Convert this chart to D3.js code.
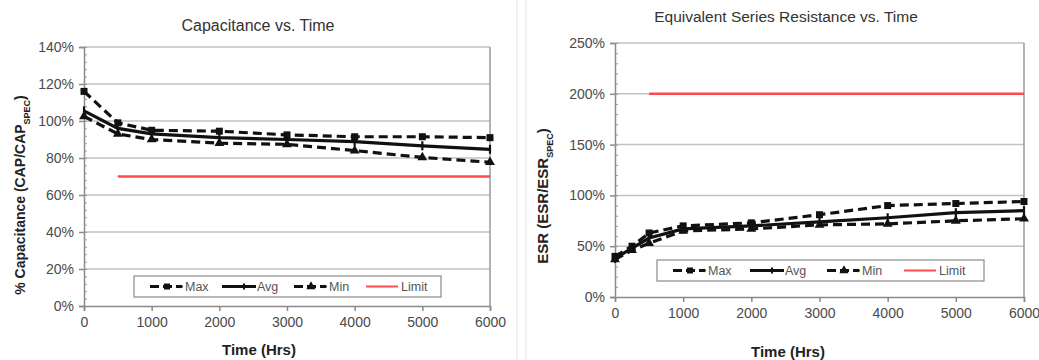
<!DOCTYPE html>
<html>
<head>
<meta charset="utf-8">
<script src="https://cdn.jsdelivr.net/npm/d3@7"></script>
<style>
  body { margin: 0; background: #fff; }
  svg { display: block; font-family: "Liberation Sans", Arial, sans-serif; }
</style>
</head>
<body>
<div id="chart"></div>
<script>
// capacitance chart data
const capTimes = [0, 500, 1000, 2000, 3000, 4000, 5000, 6000];
const capMax = [116, 99, 95, 94.5, 92.5, 91.5, 91.5, 91];
const capAvg = [105.5, 96, 93, 91, 90, 88.8, 86.6, 84.7];
const capMin = [102.5, 93, 90, 88, 87.4, 84, 80.3, 77.7];
const capLimitTimes = [500, 6000];
const capLimit = [70, 70];
const capTicks = [0, 20, 40, 60, 80, 100, 120, 140];

// ESR chart data
const esrTimes = [0, 250, 500, 1000, 2000, 3000, 4000, 5000, 6000];
const esrMax = [40, 50, 63, 70, 73, 81, 90, 92, 94];
const esrAvg = [38, 48, 58, 67, 70, 74, 78, 83, 85];
const esrMin = [37, 46, 53, 65, 67, 71, 72, 75, 77];
const esrLimitTimes = [500, 6000];
const esrLimit = [200, 200];
const esrTicks = [0, 50, 100, 150, 200, 250];

const timeTicks = [0, 1000, 2000, 3000, 4000, 5000, 6000];
const seriesNames = ["Max", "Avg", "Min", "Limit"];

const svg = d3.select("#chart").append("svg")
    .attr("width", 1039)
    .attr("height", 360);

// faint divider lines between the two pictures
[517, 526].forEach(x => {
    svg.append("line")
        .attr("x1", x).attr("x2", x)
        .attr("y1", 0).attr("y2", 360)
        .attr("stroke", "#e2e2e2")
        .attr("stroke-width", 1);
});

function drawChart(opt) {
    const g = svg.append("g");

    const x = d3.scaleLinear().domain([0, 6000]).range([opt.left, opt.right]);
    const y = d3.scaleLinear().domain([0, opt.yMax]).range([opt.bottom, opt.top]);

    // grid lines
    g.selectAll(".grid")
        .data(opt.ticks.slice(1))
        .enter()
        .append("line")
        .attr("x1", opt.left).attr("x2", opt.right)
        .attr("y1", d => y(d)).attr("y2", d => y(d))
        .attr("stroke", "#c2c2c2")
        .attr("stroke-width", 1.5);

    // plot border (right side)
    g.append("line")
        .attr("x1", opt.right).attr("x2", opt.right)
        .attr("y1", opt.top).attr("y2", opt.bottom)
        .attr("stroke", "#9a9a9a")
        .attr("stroke-width", 1.5);

    // y axis
    const yAxis = g.append("g")
        .attr("transform", `translate(${opt.left},0)`)
        .call(d3.axisLeft(y).tickValues(opt.ticks).tickSize(5).tickFormat(d => d + "%"));
    yAxis.select(".domain").attr("stroke", "#8a8a8a").attr("stroke-width", 1.5);
    yAxis.selectAll(".tick line").attr("stroke", "#8a8a8a").attr("stroke-width", 1.5);
    yAxis.selectAll("text")
        .attr("fill", "#4a4a4a")
        .style("font-size", "14px")
        .attr("x", -10);

    // minor ticks
    g.append("g")
        .attr("transform", `translate(${opt.left},0)`)
        .call(d3.axisRight(y).tickValues(d3.range(0, opt.yMax + 0.01, opt.minorStep)).tickSize(3).tickFormat(""))
        .call(a => a.select(".domain").remove())
        .selectAll(".tick line").attr("stroke", "#9a9a9a");

    // x axis
    const xAxis = g.append("g")
        .attr("transform", `translate(0,${opt.bottom})`)
        .call(d3.axisBottom(x).tickValues(timeTicks).tickSize(5).tickFormat(d3.format("d")));
    xAxis.select(".domain").attr("stroke", "#8a8a8a").attr("stroke-width", 1.5);
    xAxis.selectAll(".tick line").attr("stroke", "#8a8a8a").attr("stroke-width", 1.5);
    xAxis.selectAll("text")
        .attr("fill", "#4a4a4a")
        .style("font-size", "14px")
        .attr("y", opt.xLabelDy);

    // limit line
    const lineGen = d3.line().x(d => x(d[0])).y(d => y(d[1]));
    g.append("path")
        .datum(opt.limitTimes.map((t, i) => [t, opt.limit[i]]))
        .attr("d", lineGen)
        .attr("fill", "none")
        .attr("stroke", "#ff4b4b")
        .attr("stroke-width", 2.5);

    // data series
    const series = [
        { name: "Max", values: opt.max, dash: "9,5", symbol: d3.symbolSquare, size: 49 },
        { name: "Avg", values: opt.avg, dash: null, symbol: null, size: 0 },
        { name: "Min", values: opt.min, dash: "9,5", symbol: d3.symbolTriangle, size: 42 }
    ];

    series.forEach(s => {
        const pts = opt.times.map((t, i) => [t, s.values[i]]);
        g.append("path")
            .datum(pts)
            .attr("d", lineGen)
            .attr("fill", "none")
            .attr("stroke", "#111")
            .attr("stroke-width", 3.2)
            .attr("stroke-dasharray", s.dash);

        if (s.symbol) {
            g.selectAll(null)
                .data(pts)
                .enter()
                .append("path")
                .attr("transform", d => `translate(${x(d[0])},${y(d[1])})`)
                .attr("d", d3.symbol().type(s.symbol).size(s.size))
                .attr("fill", "#111");
        } else {
            g.selectAll(null)
                .data(pts)
                .enter()
                .append("line")
                .attr("x1", d => x(d[0])).attr("x2", d => x(d[0]))
                .attr("y1", d => y(d[1]) - 4.5).attr("y2", d => y(d[1]) + 4.5)
                .attr("stroke", "#111")
                .attr("stroke-width", 2.2);
        }
    });

    // legend
    const lg = g.append("g");
    lg.append("rect")
        .attr("x", opt.legend.x).attr("y", opt.legend.y)
        .attr("width", opt.legend.w).attr("height", 21)
        .attr("fill", "#fff")
        .attr("stroke", "#8a8a8a")
        .attr("stroke-width", 1.2);
    const itemW = opt.legend.itemW;
    seriesNames.forEach((name, i) => {
        const x0 = opt.legend.x + 16 + i * itemW;
        const cy = opt.legend.y + 10.5;
        const item = lg.append("g");
        if (name === "Limit") {
            item.append("line")
                .attr("x1", x0).attr("x2", x0 + 32)
                .attr("y1", cy).attr("y2", cy)
                .attr("stroke", "#ff4b4b").attr("stroke-width", 2);
        } else if (name === "Avg") {
            item.append("line")
                .attr("x1", x0).attr("x2", x0 + 34)
                .attr("y1", cy).attr("y2", cy)
                .attr("stroke", "#111").attr("stroke-width", 3.2);
            item.append("line")
                .attr("x1", x0 + 22).attr("x2", x0 + 22)
                .attr("y1", cy - 3).attr("y2", cy + 3)
                .attr("stroke", "#111").attr("stroke-width", 2);
        } else {
            item.append("line")
                .attr("x1", x0).attr("x2", x0 + 30)
                .attr("y1", cy).attr("y2", cy)
                .attr("stroke", "#111").attr("stroke-width", 3.2)
                .attr("stroke-dasharray", "9,4");
            item.append("path")
                .attr("transform", `translate(${x0 + 17},${cy})`)
                .attr("d", d3.symbol().type(name === "Max" ? d3.symbolSquare : d3.symbolTriangle).size(36))
                .attr("fill", "#111");
            item.append("circle")
                .attr("cx", x0 + 31).attr("cy", cy).attr("r", 1.8)
                .attr("fill", "#111");
        }
        item.append("text")
            .attr("x", x0 + 35)
            .attr("y", cy + 4.5)
            .attr("fill", "#555")
            .style("font-size", "12.5px")
            .text(name);
    });

    // title
    g.append("text")
        .attr("x", opt.titleX).attr("y", opt.titleY)
        .attr("text-anchor", "middle")
        .attr("fill", "#333")
        .style("font-size", opt.titleSize)
        .text(opt.title);

    // x axis title
    g.append("text")
        .attr("x", opt.xTitleX).attr("y", opt.xTitleY)
        .attr("text-anchor", "middle")
        .attr("fill", "#222")
        .style("font-size", "15px")
        .style("font-weight", "bold")
        .text("Time (Hrs)");

    // y axis title with subscript
    const yt = g.append("text")
        .attr("transform", `translate(${opt.yTitleX},${opt.yTitleY}) rotate(-90)`)
        .attr("text-anchor", "middle")
        .attr("fill", "#222")
        .style("font-size", opt.yTitleSize)
        .style("font-weight", "bold");
    yt.append("tspan").text(opt.yTitle[0]);
    yt.append("tspan").attr("baseline-shift", "sub").style("font-size", "9px").text("SPEC");
    yt.append("tspan").text(")");
}

drawChart({
    left: 84, right: 490, top: 47, bottom: 306,
    yMax: 140, ticks: capTicks, minorStep: 4,
    times: capTimes, max: capMax, avg: capAvg, min: capMin,
    limitTimes: capLimitTimes, limit: capLimit,
    legend: { x: 134, y: 276, w: 307, itemW: 72 },
    title: "Capacitance vs. Time", titleX: 258, titleY: 31, titleSize: "16px",
    xTitleX: 259, xTitleY: 355, xLabelDy: 11,
    yTitle: ["% Capacitance (CAP/CAP"], yTitleX: 25, yTitleY: 195, yTitleSize: "14px"
});

drawChart({
    left: 615, right: 1024, top: 43, bottom: 297,
    yMax: 250, ticks: esrTicks, minorStep: 10,
    times: esrTimes, max: esrMax, avg: esrAvg, min: esrMin,
    limitTimes: esrLimitTimes, limit: esrLimit,
    legend: { x: 657, y: 260, w: 327, itemW: 77 },
    title: "Equivalent Series Resistance vs. Time", titleX: 786, titleY: 22, titleSize: "15.5px",
    xTitleX: 788, xTitleY: 357, xLabelDy: 11,
    yTitle: ["ESR (ESR/ESR"], yTitleX: 548, yTitleY: 196, yTitleSize: "15px"
});
</script>
</body>
</html>
